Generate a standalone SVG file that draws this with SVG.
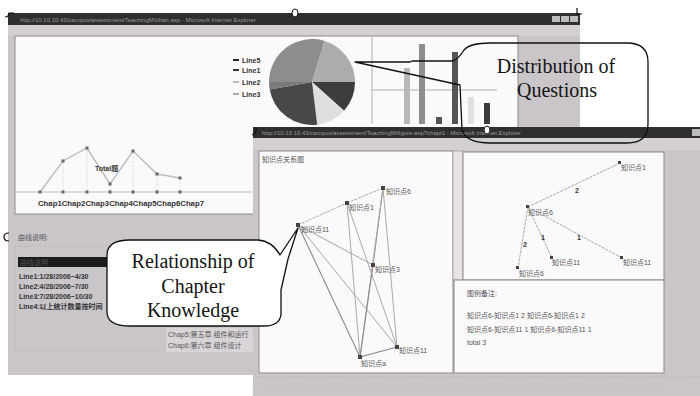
<svg xmlns="http://www.w3.org/2000/svg" width="700" height="396" viewBox="0 0 700 396">
<style>
.win{fill:#c9c5c9}
.panel{fill:#fbf9fb;stroke:#8e8a8e;stroke-width:1}
.tbar{fill:#2f2f2f}
.tt{font-family:"Liberation Sans",sans-serif;font-size:6px;fill:#9a9a9a}
.cn{font-family:"Liberation Sans","Noto Sans CJK SC",sans-serif;font-size:7px;fill:#555}
.bd{font-family:"Liberation Sans","Noto Sans CJK SC",sans-serif;font-size:7px;font-weight:bold;fill:#333}
.cap{font-family:"Liberation Serif",serif;font-size:20px;fill:#151515;text-anchor:middle}
.callout{stroke:#111;stroke-width:1.3;stroke-linejoin:round}
.edge{stroke:#a8a8a8;stroke-width:1;fill:none}
.edge2{stroke:#8a8a8a;stroke-width:1.1;fill:none}
.dot{fill:#444}
.vd{stroke:#c4c4c4;stroke-width:0.8;stroke-dasharray:1,1.5}
.handle{fill:#fff;stroke:#111;stroke-width:1}
</style>
<rect width="700" height="396" fill="#ffffff"/>

<g id="chart-window">
  <rect class="win" x="8" y="13" width="572" height="362"/>
  <rect class="tbar" x="8" y="13" width="572" height="12"/>
  <text class="tt" x="20" y="22">http://10.10.10.43/campus/assessment/TeachingM/chart.asp - Microsoft Internet Explorer</text>
  <rect x="552" y="16" width="8" height="6" fill="#bdbdbd"/>
  <rect x="561" y="16" width="8" height="6" fill="#bdbdbd"/>
  <rect x="570" y="16" width="8" height="6" fill="#bdbdbd"/>
  <rect x="8" y="25" width="572" height="11" fill="#d3cfd3"/>
  <rect class="panel" x="15" y="36" width="503" height="178"/>
  <!-- line chart -->
  <line x1="16" y1="192" x2="252" y2="192" stroke="#c0c0c0" stroke-width="1.2"/>
  <line class="vd" x1="63" y1="161" x2="63" y2="192"/>
  <line class="vd" x1="87" y1="148" x2="87" y2="192"/>
  <line class="vd" x1="110" y1="184" x2="110" y2="192"/>
  <line class="vd" x1="133" y1="151" x2="133" y2="192"/>
  <line class="vd" x1="157" y1="174" x2="157" y2="192"/>
  <line class="vd" x1="180" y1="178" x2="180" y2="192"/>
  <polyline points="40,192 63,161 87,148 110,184 133,151 157,174 180,178" fill="none" stroke="#bdbdbd" stroke-width="1.4"/>
  <g fill="#666">
    <rect x="38.5" y="190.5" width="3" height="3"/><rect x="61.5" y="159.5" width="3" height="3"/><rect x="85.5" y="146.5" width="3" height="3"/><rect x="108.5" y="182.5" width="3" height="3"/><rect x="131.5" y="149.5" width="3" height="3"/><rect x="155.5" y="172.5" width="3" height="3"/><rect x="178.5" y="176.5" width="3" height="3"/>
    <rect x="61.5" y="190.5" width="3" height="3"/><rect x="85.5" y="190.5" width="3" height="3"/><rect x="108.5" y="190.5" width="3" height="3"/><rect x="131.5" y="190.5" width="3" height="3"/><rect x="155.5" y="190.5" width="3" height="3"/><rect x="178.5" y="190.5" width="3" height="3"/>
  </g>
  <text class="bd" x="95" y="171" font-size="7">Total题</text>
  <text class="bd" x="38" y="206" textLength="166" lengthAdjust="spacingAndGlyphs">Chap1Chap2Chap3Chap4Chap5Chap6Chap7</text>
  <!-- legend -->
  <rect x="233" y="59" width="6" height="2" fill="#222"/>
  <text class="bd" x="242" y="63">Line5</text>
  <rect x="233" y="69" width="6" height="2" fill="#333"/>
  <text class="bd" x="242" y="73">Line1</text>
  <rect x="233" y="81" width="6" height="2" fill="#bbb"/>
  <text class="bd" x="242" y="85">Line2</text>
  <rect x="233" y="93" width="6" height="2" fill="#aaa"/>
  <text class="bd" x="242" y="97">Line3</text>
  <!-- pie -->
  <path d="M312,82 L269,82 A43,43 0 0 1 324.6,40.9 Z" fill="#8d8d8d"/>
  <path d="M312,82 L324.6,40.9 A43,43 0 0 1 355,82 Z" fill="#acacac"/>
  <path d="M312,82 L355,82 A43,43 0 0 1 344,110.8 Z" fill="#3c3c3c"/>
  <path d="M312,82 L344,110.8 A43,43 0 0 1 317.2,124.7 Z" fill="#dedede"/>
  <path d="M312,82 L317.2,124.7 A43,43 0 0 1 269.7,89.5 Z" fill="#484848"/>
  <path d="M312,82 L269.7,89.5 A43,43 0 0 1 269,82 Z" fill="#7a7a7a"/>
  <!-- bar chart -->
  <line x1="372" y1="37" x2="372" y2="124" stroke="#b0b0b0"/>
  <line x1="372" y1="90" x2="497" y2="90" stroke="#b0b0b0"/>
  <rect x="404" y="68" width="6" height="56" fill="#b8b8b8"/>
  <rect x="419" y="44" width="6" height="80" fill="#8e8e8e"/>
  <rect x="436" y="117" width="6" height="7" fill="#555"/>
  <rect x="452" y="52" width="6" height="72" fill="#555"/>
  <rect x="468" y="97" width="6" height="27" fill="#e0e0e0"/>
  <rect x="484" y="103" width="6" height="21" fill="#3a3a3a"/>
  <!-- lower area -->
  <text class="cn" x="18" y="240" font-size="8">曲线说明:</text>
  <rect x="15" y="246" width="240" height="104" fill="none" stroke="#b0acb0" stroke-dasharray="1,1.5"/>
  <rect x="18" y="257" width="92" height="10" fill="#1c1c1c"/>
  <text class="cn" x="20" y="265" fill="#9a9a9a">曲线说明</text>
  <text class="bd" x="19" y="279">Line1:1/28/2006~4/30</text>
  <text class="bd" x="19" y="289">Line2:4/28/2006~7/30</text>
  <text class="bd" x="19" y="299">Line3:7/28/2006~10/30</text>
  <text class="bd" x="19" y="309">Line4:以上统计数量按时间</text>
  <rect x="166" y="328" width="89" height="24" fill="#d8d4d8"/>
  <text class="cn" x="168" y="337">Chap5:第五章 组件和运行</text>
  <text class="cn" x="168" y="348">Chap6:第六章 组件设计</text>
</g>

<g id="graph-window">
  <rect class="win" x="253" y="127" width="447" height="269"/>
  <rect class="tbar" x="253" y="127" width="447" height="11"/>
  <text class="tt" x="262" y="135">http://10.10.10.43/campus/assessment/TeachingM/figure.asp?chapt1 - Microsoft Internet Explorer</text>
  <rect x="692" y="129" width="8" height="7" fill="#bdbdbd"/>
  <rect x="253" y="138" width="447" height="12" fill="#d3cfd3"/>
  <rect class="panel" x="259" y="151" width="194" height="222"/>
  <rect x="453" y="151" width="10" height="129" fill="#e6e2e6" stroke="#a8a4a8" stroke-width="0.8"/>
  <rect class="panel" x="463" y="152" width="201" height="128"/>
  <rect class="panel" x="454" y="280" width="210" height="93"/>
  <line x1="253" y1="377" x2="700" y2="377" stroke="#b0acb0" stroke-dasharray="1,1.5"/>
  <line x1="260" y1="386" x2="665" y2="386" stroke="#b8b4b8" stroke-dasharray="1,1.5"/>
  <text class="cn" x="262" y="162">知识点关系图</text>
  <text class="cn" x="467" y="296">图例备注:</text>
  <text class="cn" x="467" y="318">知识点6-知识点1 2  知识点6-知识点1 2</text>
  <text class="cn" x="467" y="332">知识点6-知识点11 1 知识点6-知识点11 1</text>
  <text class="cn" x="467" y="345">total 3</text>
</g>

<g id="connectors">
  <line class="edge" x1="298" y1="225" x2="347" y2="203" stroke-dasharray="3,1"/>
  <line class="edge" x1="347" y1="203" x2="383" y2="188" stroke-dasharray="3,1"/>
  <line class="edge2" x1="298" y1="225" x2="360" y2="357"/>
  <line class="edge" x1="298" y1="225" x2="397" y2="347" stroke="#c8c8c8"/>
  <line class="edge" x1="298" y1="225" x2="373" y2="265" stroke="#cfcfcf"/>
  <line class="edge" x1="347" y1="203" x2="360" y2="357"/>
  <line class="edge" x1="347" y1="203" x2="397" y2="347" stroke="#c4c4c4"/>
  <line class="edge2" x1="383" y1="188" x2="373" y2="265"/>
  <line class="edge" x1="383" y1="188" x2="397" y2="347"/>
  <line class="edge" x1="383" y1="188" x2="360" y2="357" stroke="#c4c4c4"/>
  <line class="edge2" x1="373" y1="265" x2="360" y2="357"/>
  <line class="edge2" x1="360" y1="357" x2="397" y2="347"/>
  <line class="edge" x1="528" y1="207" x2="620" y2="163" stroke-dasharray="3,1"/>
  <line class="edge" x1="528" y1="207" x2="518" y2="268" stroke-dasharray="3,1"/>
  <line class="edge" x1="528" y1="207" x2="552" y2="258" stroke-dasharray="3,1"/>
  <line class="edge" x1="528" y1="207" x2="622" y2="258" stroke-dasharray="3,1"/>
</g>

<g id="graph-nodes">
  <g id="n-a"><rect class="dot" x="296" y="223" width="4" height="4"/><text class="cn" x="301" y="232">知识点11</text></g>
  <g id="n-b"><rect class="dot" x="345" y="201" width="4" height="4"/><text class="cn" x="349" y="210">知识点1</text></g>
  <g id="n-c"><rect class="dot" x="381" y="186" width="4" height="4"/><text class="cn" x="386" y="194">知识点6</text></g>
  <g id="n-d"><rect class="dot" x="371" y="263" width="4" height="4"/><text class="cn" x="375" y="272">知识点3</text></g>
  <g id="n-e"><rect class="dot" x="358" y="355" width="4" height="4"/><text class="cn" x="361" y="366">知识点a</text></g>
  <g id="n-f"><rect class="dot" x="395" y="345" width="4" height="4"/><text class="cn" x="399" y="353">知识点11</text></g>
  <g id="t-p"><rect class="dot" x="618" y="161" width="3" height="3"/><text class="cn" x="621" y="170">知识点1</text></g>
  <g id="t-q"><rect class="dot" x="526" y="205" width="3" height="3"/><text class="cn" x="528" y="215">知识点6</text></g>
  <g id="t-r"><rect class="dot" x="550" y="256" width="3" height="3"/><text class="cn" x="552" y="265">知识点11</text></g>
  <g id="t-s"><rect class="dot" x="620" y="256" width="3" height="3"/><text class="cn" x="623" y="265">知识点11</text></g>
  <g id="t-t"><rect class="dot" x="516" y="266" width="3" height="3"/><text class="cn" x="519" y="276">知识点6</text></g>
  <text class="bd" x="575" y="193">2</text>
  <text class="bd" x="523" y="247">2</text>
  <text class="bd" x="541" y="240">1</text>
  <text class="bd" x="577" y="240">1</text>
</g>

<g id="handles">
  <path d="M5,17 Q9,17 9,13 L14,13" fill="none" stroke="#111" stroke-width="1.2"/>
  <ellipse class="handle" cx="295" cy="13" rx="3" ry="4"/>
  <path d="M577,8 L577,14 L582,14" fill="none" stroke="#111" stroke-width="1.2"/>
  <path d="M9,233 Q4,233 4,237 Q4,241 9,241" fill="none" stroke="#111" stroke-width="1.2"/>
  <path d="M252,135 Q257,133 256,128" fill="none" stroke="#111" stroke-width="1.2"/>
  <ellipse class="handle" cx="487" cy="130" rx="3" ry="4"/>
</g>

<g id="callout-distribution">
  <path class="callout" fill="none" d="M355,62 L410,62 L412,61 L452,61 Q458,60 464,50 Q470,43 490,43 L627,43 Q648,43 648,62 L648,124 Q648,143 627,143 L490,143 Q466,143 462,130 L460,85 Z"/>
  <text class="cap" x="556" y="73">Distribution of</text>
  <text class="cap" x="557" y="97">Questions</text>
</g>

<g id="callout-relationship">
  <path class="callout" fill="#ffffff" d="M130,240 L258,240 Q272,241 280,255 L298,228 L288,259 L281,290 L281,314 Q280,326 264,326 L130,326 Q107,326 107,312 L107,255 Q107,240 130,240 Z"/>
  <text class="cap" x="193" y="268">Relationship of</text>
  <text class="cap" x="193" y="293">Chapter</text>
  <text class="cap" x="193" y="317">Knowledge</text>
</g>
</svg>
